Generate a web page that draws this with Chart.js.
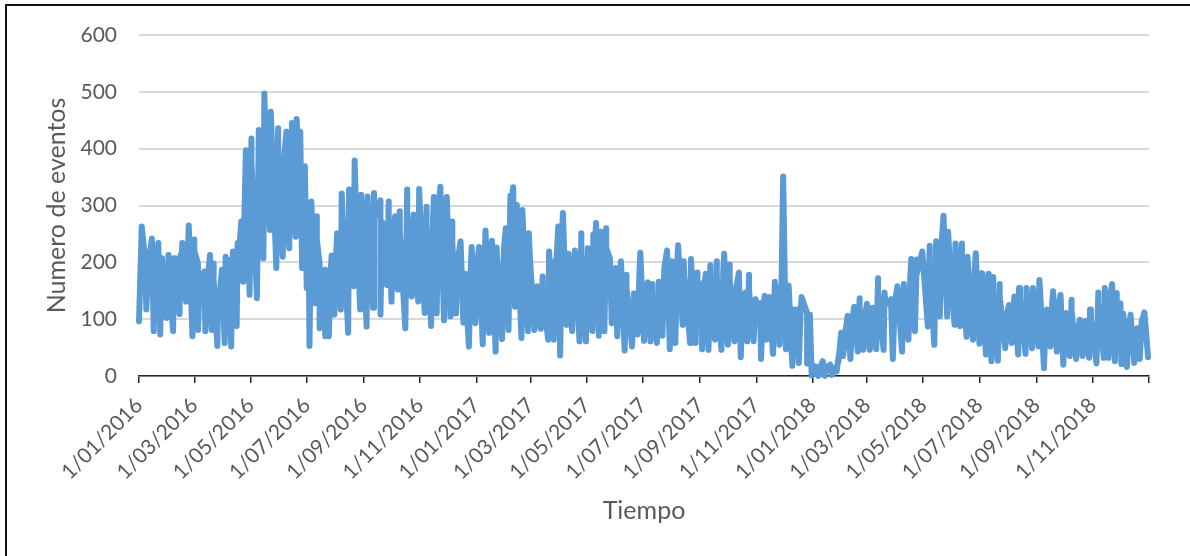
<!DOCTYPE html>
<html>
<head>
<meta charset="utf-8">
<title>Numero de eventos</title>
<script src="https://cdn.jsdelivr.net/npm/chart.js@4/dist/chart.umd.min.js"></script>
<style>
  html, body { margin: 0; padding: 0; background: #fff; overflow: hidden; }
  #wrap { position: relative; width: 1190px; height: 556px; }
  #frame { position: absolute; left: 5px; top: 4px; right: 0; bottom: 0; border-left: 2px solid #111; border-top: 2px solid #111; }
  canvas { position: absolute; left: 0; top: 0; }
</style>
</head>
<body>
<div id="wrap">
  <div id="frame"></div>
  <canvas id="eventsChart" width="1190" height="556"></canvas>
</div>
<script>
// Days since 1/01/2016 of the upper and lower peaks
const highDays = [3,6,10,14,17,21,25,32,38,45,47,54,60,64,71,77,81,86,90,94,98,102,107,111,116,122,130,136,143,151,160,166,171,175,180,187,193,196,202,209,215,220,228,234,241,248,255,262,271,278,283,291,298,304,312,320,327,334,340,349,354,
  361,369,376,383,388,398,403,406,410,416,423,432,438,445,451,455,460,466,473,480,487,493,496,501,507,511,517,523,529,537,544,552,557,564,573,578,585,591,599,606,611,615,620,627,635,641,651,658,662,669,674,679,684,690,694,699,705,710,714,719,725,
  728,734,742,750,754,759,762,769,776,782,790,796,802,809,816,823,830,838,844,850,858,865,873,878,886,893,899,908,915,922,927,934,944,950,955,963,970,977,985,992,1000,1006,1012,1021,1027,1032,1041,1048,1056,1061,1065,1069,1076,1083,1091];
const highValues = [263,216,215,242,192,234,207,213,207,213,234,265,240,198,184,213,198,150,187,210,204,219,234,272,397,418,433,497,465,436,430,445,452,430,369,307,281,198,187,212,251,321,328,379,319,316,322,309,307,281,290,328,284,329,298,315,333,315,272,237,180,
  227,227,256,238,226,260,317,332,301,292,251,158,175,219,202,263,287,215,221,251,225,249,269,254,260,207,190,202,178,145,217,165,162,166,221,202,230,202,206,182,163,180,195,202,215,196,182,147,178,135,128,141,139,166,155,351,159,117,117,139,111,
  108,17,26,20,14,32,76,106,122,137,127,120,172,147,135,158,162,206,205,219,229,237,282,254,233,233,210,216,181,180,174,162,125,140,155,155,155,169,117,149,143,111,134,99,97,117,147,155,162,146,128,93,108,84,112];
const lowDays = [0,8,16,23,30,37,44,51,58,64,72,79,85,93,100,106,113,120,128,135,142,149,156,163,170,177,182,185,191,196,202,206,212,219,227,233,240,247,254,262,269,274,281,289,296,303,310,317,323,331,338,344,352,358,
  365,373,380,387,394,401,408,415,422,429,436,444,450,457,464,470,478,485,492,499,505,513,519,527,535,541,548,555,562,568,576,582,590,598,604,611,618,625,632,639,646,653,660,667,675,681,688,695,702,709,716,725,
  730,737,744,752,757,764,772,780,786,793,800,808,818,828,835,842,856,863,869,877,885,891,898,905,912,919,925,932,940,947,954,962,969,976,982,989,996,1003,1010,1017,1024,1031,1039,1047,1052,1059,1066,1072,1080,1086,1095];
const lowValues = [96,117,79,73,102,79,109,131,70,81,79,81,53,58,52,88,166,143,137,207,257,190,210,225,245,190,155,53,128,84,70,70,108,117,76,158,117,87,120,108,160,131,152,84,140,131,111,88,110,98,105,110,94,52,
  93,56,76,43,65,81,122,67,79,81,83,64,64,36,90,79,61,61,79,71,79,93,70,45,52,73,62,61,58,71,47,58,90,58,58,47,46,64,46,55,61,33,61,61,30,64,39,55,47,18,23,22,
  1,0,0,2,8,35,30,43,46,46,47,46,30,43,64,79,87,55,105,105,90,88,69,64,57,38,26,27,49,58,38,39,49,52,14,52,43,20,35,30,35,32,22,32,32,26,21,16,23,30,33];
// Levels of the notches between the upper peaks
const notchDays = [10,18,25,32,39,46,53,60,66,74,81,87,95,102,108,115,122,130,137,144,151,158,165,172,179,184,193,198,204,208,214,221,229,235,242,249,256,264,271,276,283,291,298,305,312,319,325,333,340,346,354,360,
  367,375,382,389,396,403,410,417,424,431,438,446,452,459,466,472,480,487,494,501,507,515,521,529,537,543,550,557,564,570,578,584,592,600,606,613,620,627,634,641,648,655,662,669,677,683,690,697,704,711,718,727,
  739,746,754,759,766,774,782,788,795,802,810,820,830,837,844,858,865,871,879,887,893,900,907,914,921,927,934,942,949,956,964,971,978,984,991,998,1005,1012,1019,1026,1033,1041,1049,1054,1061,1068,1074,1082,1088];
const notchValues = [195,185,200,190,190,195,215,220,170,160,170,135,175,195,205,330,380,400,440,420,400,395,410,420,340,270,240,170,165,180,215,280,290,320,285,280,280,270,275,250,255,285,250,290,265,275,290,280,235,205,160,190,
  195,200,205,195,225,285,270,255,215,140,150,185,175,245,190,190,215,195,215,225,225,170,170,155,125,180,145,140,145,190,175,195,175,175,155,150,165,175,185,170,155,130,150,120,115,120,140,135,135,100,115,90,
  15,15,10,25,70,95,115,110,105,145,125,125,140,175,180,200,210,235,225,205,205,185,190,160,155,150,140,110,125,135,135,135,145,105,130,120,100,115,85,85,100,125,135,140,125,110,85,75,95];

const tickDays = [0,60,121,182,244,305,366,425,486,547,609,670,731,790,851,912,974,1035,1096];
const tickLabels = ['1/01/2016','1/03/2016','1/05/2016','1/07/2016','1/09/2016','1/11/2016','1/01/2017','1/03/2017','1/05/2017','1/07/2017','1/09/2017','1/11/2017','1/01/2018','1/03/2018','1/05/2018','1/07/2018','1/09/2018','1/11/2018',''];

const points = [];
highDays.forEach((d, i) => points.push({ x: d, y: highValues[i] }));
lowDays.forEach((d, i) => points.push({ x: d, y: lowValues[i] }));
notchDays.forEach((d, i) => points.push({ x: d, y: notchValues[i] }));
points.sort((a, b) => a.x - b.x);

const textColor = '#595959';
const fontFamily = 'Lato, "Open Sans", sans-serif';

new Chart(document.getElementById('eventsChart'), {
  type: 'line',
  data: {
    datasets: [{
      label: 'Eventos',
      data: points,
      borderColor: '#5B9BD5',
      borderWidth: 6,
      borderCapStyle: 'round',
      borderJoinStyle: 'round',
      pointRadius: 0,
      tension: 0,
      fill: false,
      clip: false
    }]
  },
  options: {
    responsive: false,
    animation: false,
    layout: { padding: { top: 35, right: 41 } },
    plugins: { legend: { display: false }, tooltip: { enabled: false } },
    scales: {
      x: {
        type: 'linear',
        min: 0,
        max: 1096,
        afterFit: function(scale) { scale.height = 180; },
        afterBuildTicks: function(scale) {
          scale.ticks = tickDays.map(d => ({ value: d }));
        },
        grid: { drawOnChartArea: false, drawTicks: true, tickLength: 7, color: '#262626', lineWidth: 1.5 },
        border: { display: true, color: '#262626', width: 1.5 },
        ticks: {
          autoSkip: false,
          minRotation: 45,
          maxRotation: 45,
          padding: 10,
          color: textColor,
          font: { family: fontFamily, size: 21 },
          callback: function(value) {
            return tickLabels[tickDays.indexOf(value)];
          }
        },
        title: {
          display: true,
          text: 'Tiempo',
          color: textColor,
          font: { family: fontFamily, size: 25 },
          padding: { top: 0, bottom: 30 }
        }
      },
      y: {
        min: 0,
        max: 600,
        afterFit: function(scale) { scale.width = 139; },
        grid: { color: '#d9d9d9', lineWidth: 2, drawTicks: false },
        border: { display: false },
        ticks: {
          stepSize: 100,
          padding: 22,
          color: textColor,
          font: { family: fontFamily, size: 21 }
        },
        title: {
          display: true,
          text: 'Numero de eventos',
          color: textColor,
          font: { family: fontFamily, size: 25 },
          padding: { top: 42, bottom: 0 }
        }
      }
    }
  }
});
</script>
</body>
</html>
